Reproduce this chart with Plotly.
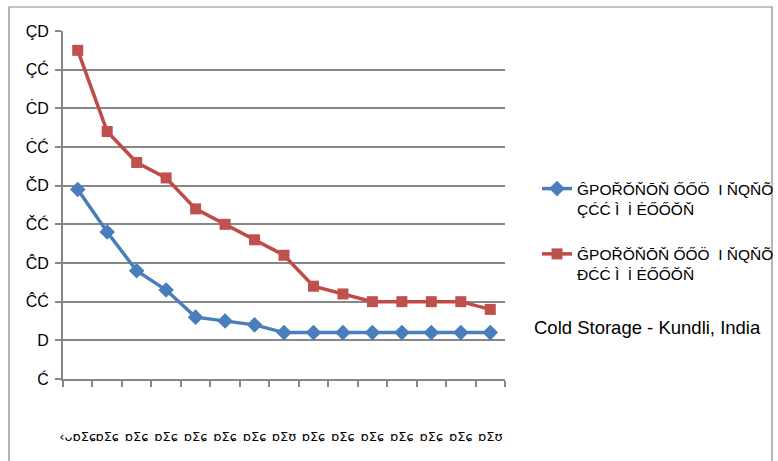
import plotly.graph_objects as go

# ---- data ----
x_labels = ["‹ᴗɒΣɕ", "ɒΣɕ", "ɒΣɕ", "ɒΣɕ", "ɒΣɕ", "ɒΣɕ", "ɒΣɕ", "ɒΣʊ",
            "ɒΣɕ", "ɒΣɕ", "ɒΣɕ", "ɒΣɕ", "ɒΣɕ", "ɒΣɕ", "ɒΣʊ"]
series_blue = [24.5, 19, 14, 11.5, 8, 7.5, 7, 6, 6, 6, 6, 6, 6, 6, 6]
series_red = [42.5, 32, 28, 26, 22, 20, 18, 16, 12, 11, 10, 10, 10, 10, 9]
name_blue = "ĜPOŘŎŇŌŇ ŐŐÖ  I ŇQŇÕ<br>ÇĆĆ Ì  İ ĖŐŐŎŇ"
name_red = "ĜPOŘŎŇŌŇ ŐŐÖ  I ŇQŇÕ<br>ĐĆĆ Ì  İ ĖŐŐŎŇ"
y_tickvals = [0, 5, 10, 15, 20, 25, 30, 35, 40, 45]
y_ticktext = ["Ć", "D", "ĈĆ", "ĈD", "ČĆ", "ČD", "ĊĆ", "ĊD", "ÇĆ", "ÇD"]
caption = "Cold Storage - Kundli, India"

# make category names unique (duplicate labels would merge) with zero-width spaces
categories = [lab + "\u200b" * i for i, lab in enumerate(x_labels)]

W, H = 778, 461
ml, mr, mt, mb = 63, 273, 31, 82
pw, ph = W - ml - mr, H - mt - mb

fig = go.Figure()
fig.add_trace(go.Scatter(
    x=categories, y=series_blue, mode="lines+markers", name=name_blue,
    line=dict(color="#4A7EBB", width=3.5),
    marker=dict(symbol="diamond", size=12, color="#4A7EBB"),
    legendgroup="a"))
fig.add_trace(go.Scatter(
    x=categories, y=series_red, mode="lines+markers", name=name_red,
    line=dict(color="#BE4B48", width=3.5),
    marker=dict(symbol="square", size=11, color="#C0504D"),
    legendgroup="b"))

grid_col = "#878787"
fig.update_layout(
    width=W, height=H,
    margin=dict(l=ml, r=mr, t=mt, b=mb, autoexpand=False),
    paper_bgcolor="white", plot_bgcolor="white",
    font=dict(family="Liberation Sans, Arial, sans-serif", color="black"),
    showlegend=True,
    legend=dict(x=(537 - ml) / pw, y=(379 - 172) / ph, xanchor="left", yanchor="top",
                font=dict(size=15.5, family="Liberation Sans, Arial"),
                bgcolor="rgba(0,0,0,0)", tracegroupgap=22, valign="top"),
    xaxis=dict(
        type="category", categoryorder="array", categoryarray=categories,
        range=[-0.5, len(categories) - 0.5],
        tickson="boundaries",
        tickangle=0, showgrid=False, zeroline=False,
        showline=True, linecolor=grid_col, linewidth=2,
        ticks="outside", ticklen=6, tickcolor=grid_col, tickwidth=1.5,
        ticklabelstandoff=44,
        tickfont=dict(size=13, family="DejaVu Sans"),
    ),
    yaxis=dict(
        range=[0, 45], tickmode="array", tickvals=y_tickvals, ticktext=y_ticktext,
        showgrid=True, gridcolor=grid_col, gridwidth=1.5, zeroline=False,
        showline=True, linecolor=grid_col, linewidth=2,
        ticks="outside", ticklen=6, tickcolor=grid_col, tickwidth=1.5,
        tickfont=dict(size=16), ticklabelstandoff=3,
    ),
)

# outer chart frame
fig.add_shape(type="rect", xref="paper", yref="paper",
              x0=(9 - ml) / pw, x1=(772 - ml) / pw,
              y0=(379 - 475) / ph, y1=(379 - 7) / ph,
              line=dict(color="#868686", width=1.2), fillcolor="rgba(0,0,0,0)",
              layer="below")

fig.add_annotation(text=caption, xref="paper", yref="paper",
                   x=(647 - ml) / pw, y=(379 - 327) / ph, showarrow=False,
                   xanchor="center", yanchor="middle",
                   font=dict(size=18.5, family="Liberation Sans, Arial", color="black"))

fig.write_html("out.html")
